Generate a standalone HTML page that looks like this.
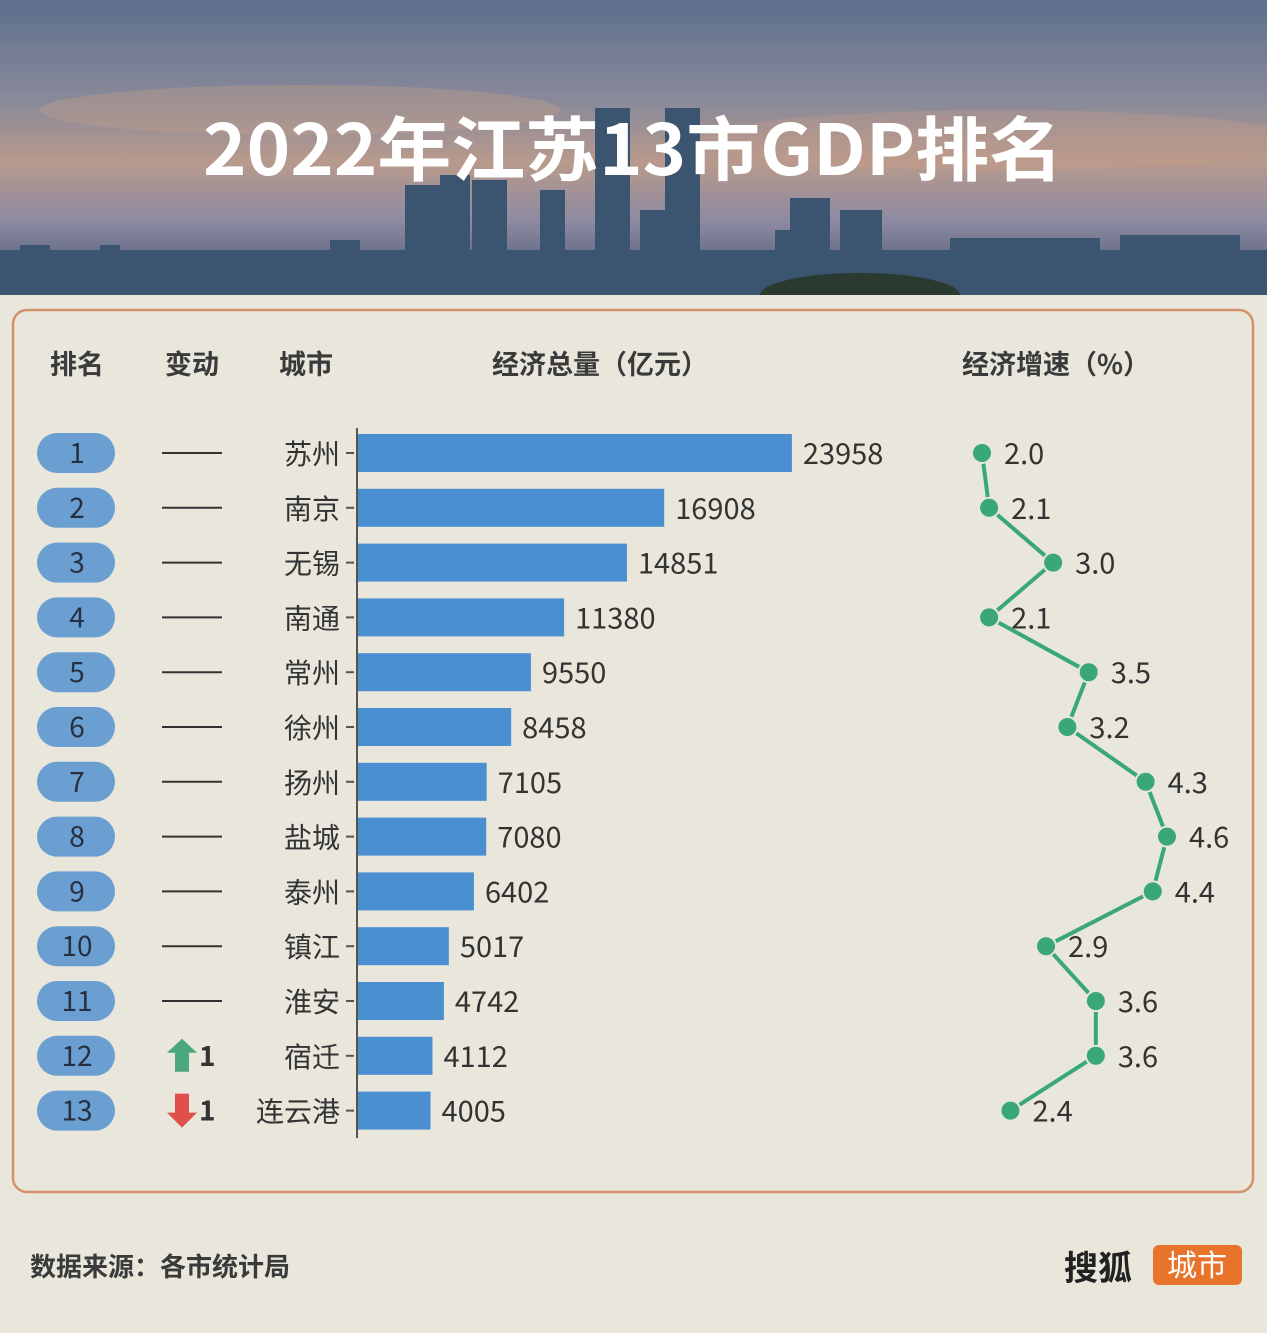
<!DOCTYPE html>
<html><head><meta charset="utf-8"><style>
body{margin:0;width:1267px;height:1333px;background:#e9e6dc;overflow:hidden;font-family:"Noto Sans CJK SC","Liberation Sans",sans-serif;}
</style></head><body>
<svg width="1267" height="1333" xmlns="http://www.w3.org/2000/svg" style="position:absolute;left:0;top:0">
<defs>
<linearGradient id="sky" x1="0" y1="0" x2="0" y2="1">
<stop offset="0" stop-color="#5d6f8c"/><stop offset="0.35" stop-color="#8a8a9a"/><stop offset="0.55" stop-color="#b89a8c"/><stop offset="0.75" stop-color="#8d8aa2"/><stop offset="1" stop-color="#3e5068"/>
</linearGradient>
<clipPath id="hc"><rect x="0" y="0" width="1267" height="295"/></clipPath>
</defs>
<g clip-path="url(#hc)">
<rect x="0" y="0" width="1267" height="295" fill="url(#sky)"/>
<ellipse cx="300" cy="110" rx="260" ry="25" fill="#c9a088" opacity="0.35"/>
<ellipse cx="1000" cy="140" rx="300" ry="30" fill="#c9a088" opacity="0.3"/>
<g fill="#3b5470">
<rect x="0" y="250" width="1267" height="45"/>
<rect x="405" y="185" width="35" height="110"/><rect x="440" y="175" width="30" height="120"/><rect x="472" y="180" width="35" height="115"/>
<rect x="540" y="190" width="25" height="105"/><rect x="595" y="108" width="35" height="187"/><rect x="665" y="108" width="35" height="187"/>
<rect x="640" y="210" width="25" height="85"/><rect x="775" y="230" width="35" height="65"/><rect x="790" y="198" width="40" height="97"/><rect x="840" y="210" width="42" height="85"/>
<rect x="330" y="240" width="30" height="55"/><rect x="100" y="245" width="20" height="50"/><rect x="20" y="245" width="30" height="50"/>
<rect x="1120" y="235" width="120" height="60"/><rect x="950" y="238" width="150" height="57"/>
</g>
<ellipse cx="860" cy="295" rx="100" ry="22" fill="#2a3a30"/>
</g>
<text x="633" y="175" text-anchor="middle" font-size="70" font-weight="bold" fill="#fff" textLength="860" lengthAdjust="spacingAndGlyphs">2022年江苏13市GDP排名</text>
<rect x="13" y="310" width="1240" height="882" rx="14" fill="#e9e6dc" stroke="#d4906a" stroke-width="2.5"/>
<g font-size="27" font-weight="bold" fill="#3a3a3a">
<text x="77" y="374" text-anchor="middle">排名</text>
<text x="192" y="374" text-anchor="middle">变动</text>
<text x="306" y="374" text-anchor="middle">城市</text>
<text x="600" y="374" text-anchor="middle">经济总量（亿元）</text>
<text x="1056" y="374" text-anchor="middle">经济增速（%）</text>
</g>
<line x1="357" y1="428" x2="357" y2="1138" stroke="#555" stroke-width="2"/>
<g id="rows" font-size="28" fill="#333"></g>
<polyline id="ln" fill="none" stroke="#3aa77a" stroke-width="4"/>
<g id="pts"></g>
<text x="30" y="1276" font-size="26" font-weight="bold" fill="#3a3a3a">数据来源：各市统计局</text>
<text x="1064" y="1280" font-size="34" font-weight="bold" fill="#222">搜狐</text>
<rect x="1153" y="1245" width="89" height="40" rx="6" fill="#e8742c"/>
<text x="1197" y="1276" text-anchor="middle" font-size="30" fill="#fff">城市</text>
</svg>
<script>
var d=[["苏州",23958,2.0,""],["南京",16908,2.1,""],["无锡",14851,3.0,""],["南通",11380,2.1,""],["常州",9550,3.5,""],["徐州",8458,3.2,""],["扬州",7105,4.3,""],["盐城",7080,4.6,""],["泰州",6402,4.4,""],["镇江",5017,2.9,""],["淮安",4742,3.6,""],["宿迁",4112,3.6,"up"],["连云港",4005,2.4,"down"]];
var ns="http://www.w3.org/2000/svg",g=document.getElementById("rows"),p=document.getElementById("pts"),pl=[];
function el(t,a,par,tx){var e=document.createElementNS(ns,t);for(var k in a)e.setAttribute(k,a[k]);if(tx)e.textContent=tx;par.appendChild(e);return e;}
d.forEach(function(r,i){var y=453+i*54.8;
el("rect",{x:37,y:y-20,width:78,height:40,rx:20,fill:"#6b9fd2"},g);
el("text",{x:77,y:y+10,"text-anchor":"middle","font-size":28,fill:"#263040"},g,String(i+1));
if(r[3]==""){el("line",{x1:162,y1:y,x2:222,y2:y,stroke:"#333","stroke-width":2},g);}
else if(r[3]=="up"){el("polygon",{points:(182)+","+(y-17)+" "+(197)+","+(y-3)+" "+(189)+","+(y-3)+" "+(189)+","+(y+16)+" "+(175)+","+(y+16)+" "+(175)+","+(y-3)+" "+(167)+","+(y-3),fill:"#4aa87c"},g);el("text",{x:199,y:y+10,"font-size":28,"font-weight":"bold",fill:"#333"},g,"1");}
else {el("polygon",{points:"175,"+(y-17)+" 189,"+(y-17)+" 189,"+(y+2)+" 197,"+(y+2)+" 182,"+(y+17)+" 167,"+(y+2)+" 175,"+(y+2),fill:"#e0504a"},g);el("text",{x:199,y:y+10,"font-size":28,"font-weight":"bold",fill:"#333"},g,"1");}
el("text",{x:340,y:y+11,"text-anchor":"end","font-size":28,fill:"#333"},g,r[0]);
el("line",{x1:346,y1:y,x2:354,y2:y,stroke:"#555","stroke-width":2},g);
var w=r[1]*0.01811;
el("rect",{x:358,y:y-19,width:w,height:38,fill:"#4a8fd0"},g);
el("text",{x:358+w+11,y:y+11,"font-size":29,fill:"#333"},g,String(r[1]));
var x=982+(r[2]-2)*71.15;pl.push(x+","+y);
el("circle",{cx:x,cy:y,r:10,fill:"#3aa77a",stroke:"#e9e6dc","stroke-width":2},p);
el("text",{x:x+22,y:y+11,"font-size":29,fill:"#333"},p,r[2].toFixed(1));
});
document.getElementById("ln").setAttribute("points",pl.join(" "));
</script>
</body></html>
